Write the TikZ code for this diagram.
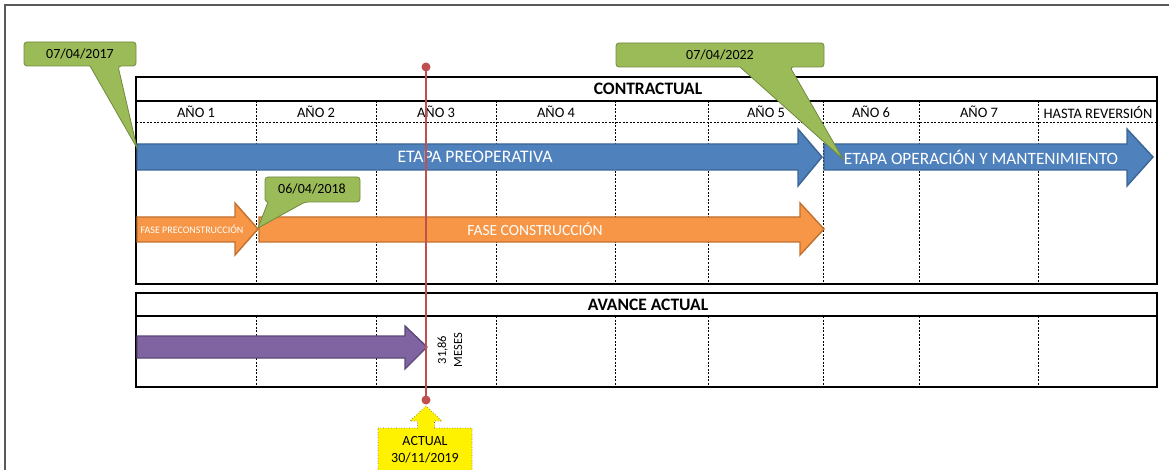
\documentclass[tikz,border=0pt]{standalone}
\usepackage{fontspec}
\setmainfont{Carlito}
\usepackage{tikz}
\usetikzlibrary{positioning}

\definecolor{azul}{HTML}{4F81BD}
\definecolor{azulborde}{HTML}{3A6595}
\definecolor{naranja}{HTML}{F79646}
\definecolor{naranjaborde}{HTML}{C0702F}
\definecolor{morado}{HTML}{8064A2}
\definecolor{moradoborde}{HTML}{5C4776}
\definecolor{verde}{HTML}{9BBB59}
\definecolor{verdeborde}{HTML}{71893F}
\definecolor{rojo}{HTML}{C0504D}

\begin{document}
\begin{tikzpicture}[x=1pt, y=-1pt,
    marco/.style={line width=1.6pt},
    rejilla/.style={line width=0.6pt, dash pattern=on 2pt off 1.5pt},
    ano/.style={font=\fontsize{14.5}{16}\selectfont},
    titulo/.style={font=\fontsize{17.5}{19}\selectfont\bfseries},
    blanco/.style={text=white},
    flechaazul/.style={fill=azul, draw=azulborde, line width=1.4pt},
    flechanaranja/.style={fill=naranja, draw=naranjaborde, line width=1.4pt},
    flechamorada/.style={fill=morado, draw=moradoborde, line width=1.4pt},
    globo/.style={fill=verde, draw=verdeborde, line width=0.8pt},
    fecha/.style={font=\fontsize{14}{17}\selectfont},
    amarillo/.style={fill=yellow, draw=gray!70!black, dotted, line width=0.6pt}]
        \useasboundingbox (0,0) rectangle (1169,470);
        \draw[gray!70!black, line width=1.2pt] (5,470) -- (5,5) -- (1169,5);
        % contractual
        \draw[marco] (136,77) rectangle (1157,284);
        \draw[marco] (136,101) -- (1157,101);
        \draw[rejilla] (136,122) -- (1157,122);
        \draw[rejilla] (256,101) -- (256,284);
        \draw[rejilla] (376,101) -- (376,284);
        \draw[rejilla] (496,101) -- (496,284);
        \draw[rejilla] (615,101) -- (615,284);
        \draw[rejilla] (708,101) -- (708,284);
        \draw[rejilla] (823,101) -- (823,284);
        \draw[rejilla] (919,101) -- (919,284);
        \draw[rejilla] (1038,101) -- (1038,284);
        \node[titulo] (contractual) at (648,89) {CONTRACTUAL};
        \node[ano] (A1) at (196,112) {AÑO 1};
        \node[ano] (A2) at (316,112) {AÑO 2};
        \node[ano] (A3) at (436,112) {AÑO 3};
        \node[ano] (A4) at (556,112) {AÑO 4};
        \node[ano] (A5) at (766,112) {AÑO 5};
        \node[ano] (A6) at (871,112) {AÑO 6};
        \node[ano] (A7) at (979,112) {AÑO 7};
        \node[ano] (AR) at (1098,112) {HASTA REVERSIÓN};
        % avance actual
        \draw[marco] (136,293) rectangle (1157,387);
        \draw[marco] (136,316) -- (1157,316);
        \draw[rejilla] (256,316) -- (256,387);
        \draw[rejilla] (376,316) -- (376,387);
        \draw[rejilla] (496,316) -- (496,387);
        \draw[rejilla] (615,316) -- (615,387);
        \draw[rejilla] (708,316) -- (708,387);
        \draw[rejilla] (823,316) -- (823,387);
        \draw[rejilla] (919,316) -- (919,387);
        \draw[rejilla] (1038,316) -- (1038,387);
        \node[titulo] (avance) at (648,305) {AVANCE ACTUAL};
        % flechas
        \draw[flechaazul] (137,144) -- (798,144) -- (798,129) -- (822,157) -- (798,186) -- (798,170) -- (137,170) -- cycle;
        \draw[flechaazul] (824,144) -- (1127,144) -- (1127,129) -- (1153,157) -- (1127,186) -- (1127,170) -- (824,170) -- cycle;
        \draw[flechanaranja] (137,217) -- (235,217) -- (235,203) -- (258,229) -- (235,255) -- (235,242) -- (137,242) -- cycle;
        \draw[flechanaranja] (259,217) -- (800,217) -- (800,203) -- (824,229) -- (800,255) -- (800,242) -- (259,242) -- cycle;
        \draw[flechamorada] (137,336) -- (405,336) -- (405,326) -- (427,347) -- (405,369) -- (405,358) -- (137,358) -- cycle;
        \node[blanco, font=\fontsize{17.6}{19}\selectfont] (preop) at (475,157) {ETAPA PREOPERATIVA};
        \node[blanco, font=\fontsize{17.3}{19}\selectfont] (operacion) at (981,157) {ETAPA OPERACIÓN Y MANTENIMIENTO};
        \node[blanco, font=\fontsize{10}{12}\selectfont] (precons) at (192,229) {FASE PRECONSTRUCCIÓN};
        \node[blanco, font=\fontsize{15.5}{17}\selectfont] (cons) at (535,229) {FASE CONSTRUCCIÓN};
        \node[rotate=90, align=center, font=\fontsize{12.5}{16}\selectfont] (meses) at (450,350) {31,86\\MESES};
        % fechas
        \draw[globo, rounded corners=3pt] (24,54) -- (24,42) -- (136,42) -- (136,66) -- (118,66) [sharp corners] -- (137,148) -- (90,66) [rounded corners=3pt] -- (24,66) -- cycle;
        \node[fecha] (F2017) at (80,54) {07/04/2017};
        \draw[globo, rounded corners=3pt] (616,55) -- (616,43) -- (824,43) -- (824,67) -- (790,67) [sharp corners] -- (843,159) -- (740,67) [rounded corners=3pt] -- (616,67) -- cycle;
        \node[fecha] (F2022) at (720,55) {07/04/2022};
        \draw[globo, rounded corners=3pt] (265,189) -- (265,177) -- (360,177) -- (360,202) -- (305,202) [sharp corners] -- (258,228) -- (268,202) [rounded corners=3pt] -- (265,202) -- cycle;
        \node[fecha] (F2018) at (312,189) {06/04/2018};
        % linea actual
        \coordinate (T) at (426,67);
        \coordinate (B) at (426,400);
        \draw[rojo, line width=2pt] (T) -- (B);
        \fill[rojo] (T) circle (4.5pt);
        \fill[rojo] (B) circle (4.5pt);
        \draw[amarillo] (378,428) -- (417.5,428) -- (417.5,421) -- (410,421) -- (426,406) -- (442,421) -- (434.5,421) -- (434.5,428) -- (472,428) -- (472,480) -- (378,480) -- cycle;
        \node[fecha, align=center] (actual) at (425,450) {ACTUAL\\30/11/2019};
    \end{tikzpicture}
\end{document}
